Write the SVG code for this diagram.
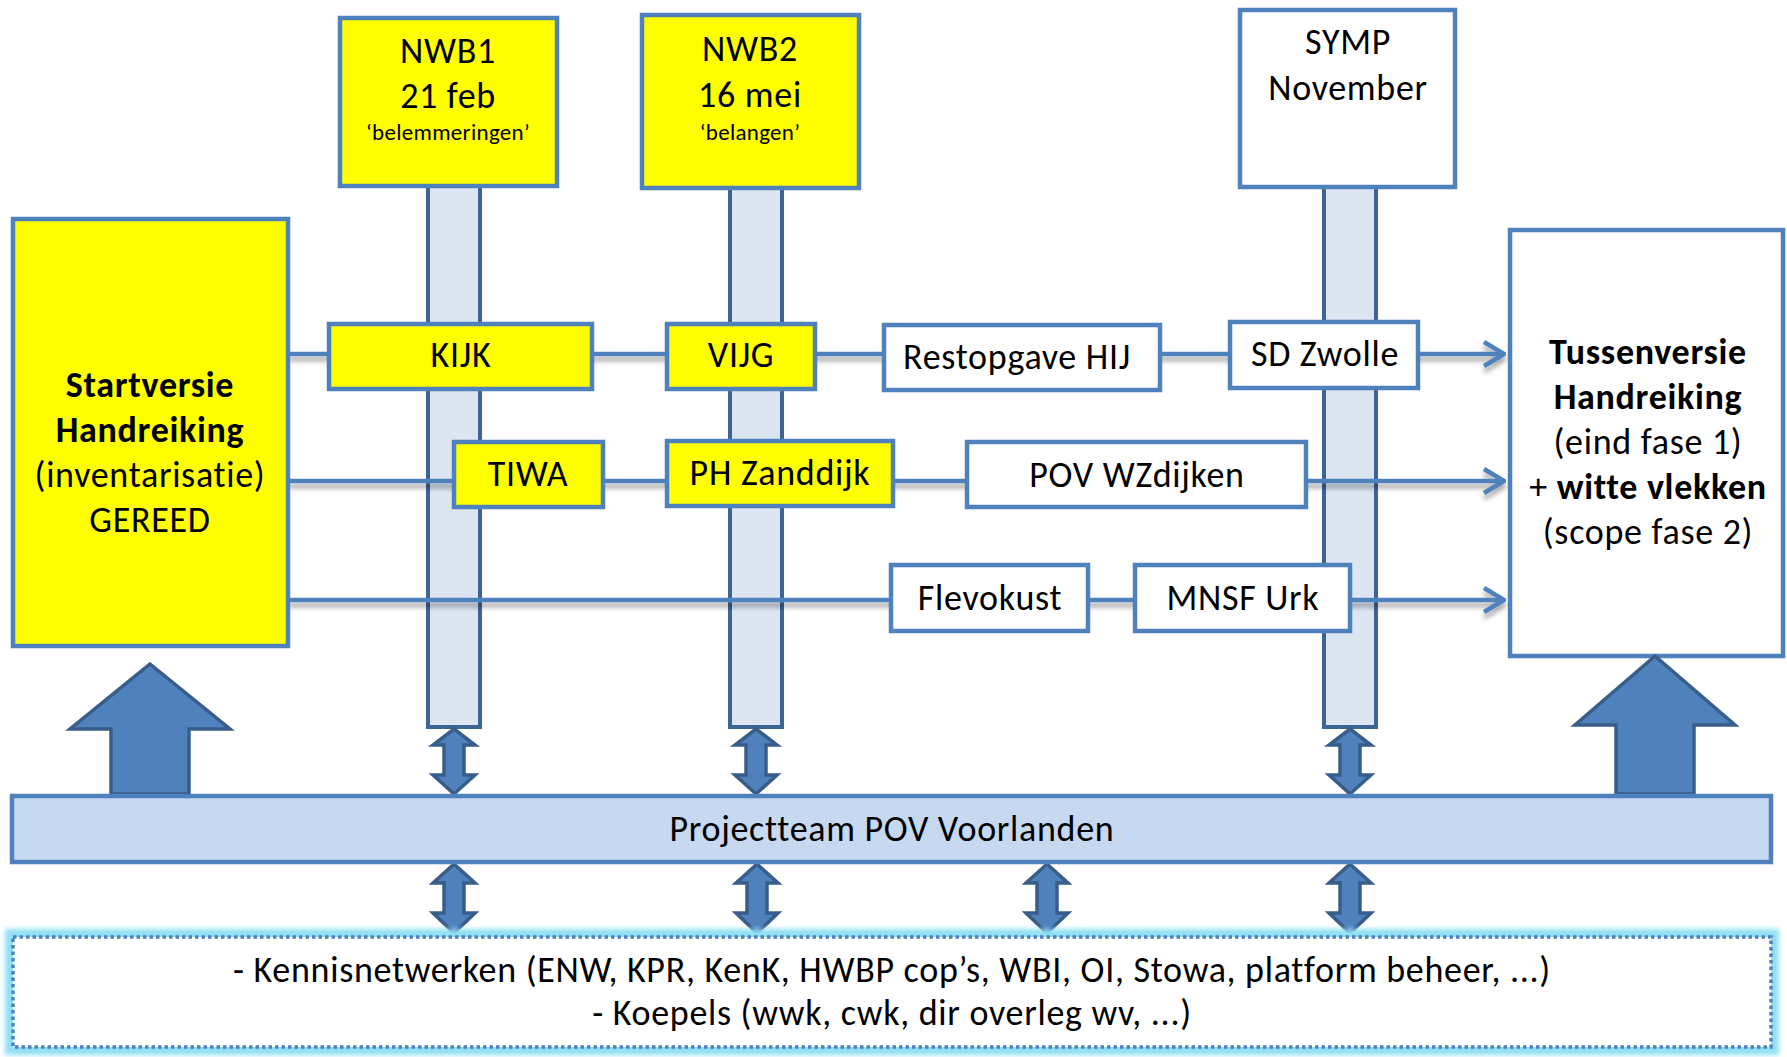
<svg xmlns="http://www.w3.org/2000/svg" width="1787" height="1057" viewBox="0 0 1787 1057">
<defs>
<style>
.t{font-family:Carlito,Calibri,Lato,"Liberation Sans",sans-serif;font-size:36px;letter-spacing:0.7px;text-anchor:middle;fill:#000}
.s{font-size:23px;letter-spacing:0.3px}
.b{font-weight:bold}
.box{stroke:#4F81BD;stroke-width:4.5}
.y{fill:#FFFF00}
.w{fill:#FFFFFF}
.bar{fill:#DCE6F2;stroke:#3C6494;stroke-width:4}
.conn{fill:none;stroke:#4F81BD;stroke-width:4.5}
.dbl{fill:#4F81BD;stroke:#385D8A;stroke-width:3.5;stroke-linejoin:miter}
.big{fill:#4F81BD;stroke:#385D8A;stroke-width:3.5}
</style>
<filter id="sh" x="-5%" y="-100%" width="110%" height="400%">
<feDropShadow dx="0" dy="5" stdDeviation="2.5" flood-color="#000" flood-opacity="0.35"/>
</filter>
<filter id="glow" x="-5%" y="-30%" width="110%" height="160%">
<feGaussianBlur stdDeviation="2.5"/>
</filter>
<marker id="chev" viewBox="0 0 24 28" refX="22" refY="14" markerWidth="24" markerHeight="28" markerUnits="userSpaceOnUse" orient="auto">
<polyline points="2,2 22,14 2,26" fill="none" stroke="#4F81BD" stroke-width="4.5"/>
</marker>
</defs>
<rect width="1787" height="1057" fill="#FFFFFF"/>

<g id="bars">
<rect class="bar" x="428" y="180" width="52" height="547"/>
<rect class="bar" x="730" y="180" width="52" height="547"/>
<rect class="bar" x="1324" y="180" width="52" height="547"/>
</g>

<g id="connectors" filter="url(#sh)">
<line class="conn" x1="289" y1="354" x2="1504" y2="354" marker-end="url(#chev)"/>
<line class="conn" x1="289" y1="481" x2="1504" y2="481" marker-end="url(#chev)"/>
<line class="conn" x1="289" y1="600" x2="1504" y2="600" marker-end="url(#chev)"/>
</g>

<g id="startversie">
<rect class="box y" x="13" y="219" width="275" height="427"/>
<text class="t b" x="150" y="397">Startversie</text>
<text class="t b" x="150" y="442">Handreiking</text>
<text class="t" x="150" y="487">(inventarisatie)</text>
<text class="t" x="150" y="532">GEREED</text>
</g>

<g id="nwb1">
<rect class="box y" x="340" y="18" width="217" height="168"/>
<text class="t" x="448" y="63">NWB1</text>
<text class="t" x="448" y="108">21 feb</text>
<text class="t s" x="448" y="140">‘belemmeringen’</text>
</g>

<g id="nwb2">
<rect class="box y" x="642" y="15" width="217" height="173"/>
<text class="t" x="750" y="61">NWB2</text>
<text class="t" x="750" y="107">16 mei</text>
<text class="t s" x="750" y="140">‘belangen’</text>
</g>

<g id="symp">
<rect class="box w" x="1240" y="10" width="215" height="177"/>
<text class="t" x="1348" y="54">SYMP</text>
<text class="t" x="1348" y="100">November</text>
</g>

<g id="tussenversie">
<rect class="box w" x="1510" y="230" width="273" height="426"/>
<text class="t b" x="1648" y="364">Tussenversie</text>
<text class="t b" x="1648" y="409">Handreiking</text>
<text class="t" x="1648" y="454">(eind fase 1)</text>
<text class="t" x="1648" y="499">+ <tspan class="b">witte vlekken</tspan></text>
<text class="t" x="1648" y="544">(scope fase 2)</text>
</g>

<g id="kijk">
<rect class="box y" x="329" y="324" width="263" height="65"/>
<text class="t" x="461" y="367">KIJK</text>
</g>
<g id="vijg">
<rect class="box y" x="667" y="324" width="148" height="65"/>
<text class="t" x="741" y="367">VIJG</text>
</g>
<g id="restopgave">
<rect class="box w" x="884" y="325" width="276" height="65"/>
<text class="t" x="1017" y="369">Restopgave HIJ</text>
</g>
<g id="sdzwolle">
<rect class="box w" x="1230" y="322" width="188" height="66"/>
<text class="t" x="1325" y="366">SD Zwolle</text>
</g>

<g id="tiwa">
<rect class="box y" x="454" y="442" width="149" height="65"/>
<text class="t" x="528" y="486">TIWA</text>
</g>
<g id="phzanddijk">
<rect class="box y" x="667" y="441" width="226" height="65"/>
<text class="t" x="780" y="485">PH Zanddijk</text>
</g>
<g id="povwzdijken">
<rect class="box w" x="967" y="442" width="339" height="65"/>
<text class="t" x="1137" y="487">POV WZdijken</text>
</g>

<g id="flevokust">
<rect class="box w" x="891" y="565" width="197" height="66"/>
<text class="t" x="990" y="610">Flevokust</text>
</g>
<g id="mnsfurk">
<rect class="box w" x="1135" y="565" width="215" height="66"/>
<text class="t" x="1243" y="610">MNSF Urk</text>
</g>

<g id="double-arrows">
<polygon class="dbl" points="454,729 475,745 464,745 464,775 475,775 454,794 433,775 444,775 444,745 433,745"/>
<polygon class="dbl" points="756,729 777,745 766,745 766,775 777,775 756,794 735,775 746,775 746,745 735,745"/>
<polygon class="dbl" points="1350,729 1371,745 1360,745 1360,775 1371,775 1350,794 1329,775 1340,775 1340,745 1329,745"/>
<polygon class="dbl" points="454,864 475,883 464,883 464,913 475,913 454,933 433,913 444,913 444,883 433,883"/>
<polygon class="dbl" points="757,864 778,883 767,883 767,913 778,913 757,933 736,913 747,913 747,883 736,883"/>
<polygon class="dbl" points="1047,864 1068,883 1057,883 1057,913 1068,913 1047,933 1026,913 1037,913 1037,883 1026,883"/>
<polygon class="dbl" points="1350,864 1371,883 1360,883 1360,913 1371,913 1350,933 1329,913 1340,913 1340,883 1329,883"/>
</g>

<g id="big-arrows">
<polygon class="big" points="150,664 230,729 189,729 189,794 111,794 111,729 70,729"/>
<polygon class="big" points="1655,656 1735,725 1694,725 1694,794 1616,794 1616,725 1575,725"/>
</g>

<g id="projectteam">
<rect x="12" y="796" width="1759" height="66" fill="#C6D9F1" stroke="#4F81BD" stroke-width="4.5"/>
<text class="t" x="892" y="841">Projectteam POV Voorlanden</text>
</g>

<g id="netwerken">
<rect x="13" y="937" width="1758" height="110" fill="none" stroke="#8FDFF5" stroke-width="16" filter="url(#glow)"/>
<rect x="13" y="937" width="1758" height="110" fill="#FFFFFF" stroke="#4F81BD" stroke-width="3.5" stroke-dasharray="3.5 3"/>
<text class="t" x="892" y="982">- Kennisnetwerken (ENW, KPR, KenK, HWBP cop’s, WBI, OI, Stowa, platform beheer, ...)</text>
<text class="t" x="892" y="1025">- Koepels (wwk, cwk, dir overleg wv, ...)</text>
</g>
</svg>
